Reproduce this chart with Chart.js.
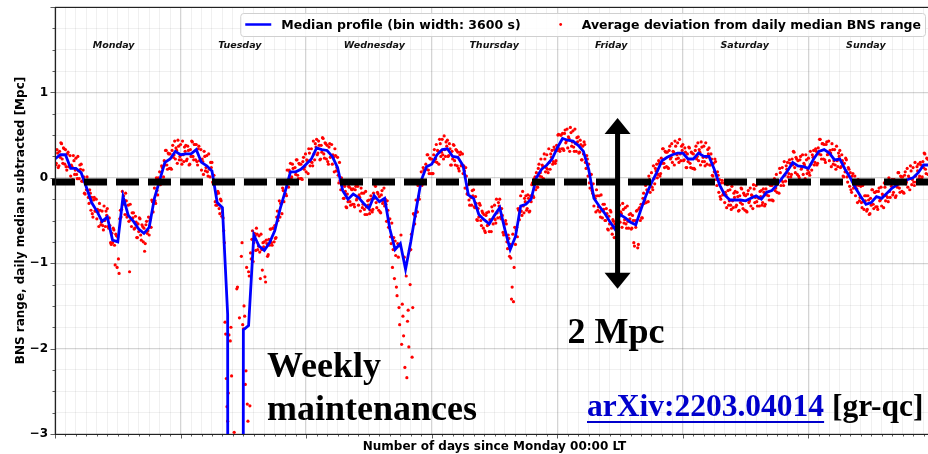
<!DOCTYPE html>
<html lang="en">
<head>
    <title>BNS range weekly profile</title>
    <script src="https://cdn.jsdelivr.net/npm/chart.js"></script>
    <style>
        html, body {
            margin: 0;
            padding: 0;
            background: #ffffff;
            overflow: hidden;
        }
        /* a bit wider than the window: the right edge of the plot is cut off like in the original */
        .chart-container {
            width: 940px;
            height: 454px;
            position: relative;
        }
    </style>
</head>
<body>
    <div class="chart-container">
        <canvas id="myChart"></canvas>
    </div>

    <script>
        const dayNames = ["Monday", "Tuesday", "Wednesday", "Thursday", "Friday", "Saturday", "Sunday"];

        // hourly median profile (Mpc), hour 0 .. 167 since Monday 00:00
        // hours 34-35 are the maintenance gap (range near zero, far below the axis)
        const medianProfile = [
            0.22, 0.27, 0.27, 0.11, 0.11, 0.06, -0.11, -0.29, -0.39, -0.51, -0.46, -0.73,
            -0.75, -0.22, -0.44, -0.51, -0.60, -0.65, -0.58, -0.24, -0.03, 0.18, 0.22, 0.31,
            0.27, 0.28, 0.28, 0.33, 0.18, 0.14, 0.08, -0.29, -0.35, -1.60, -100, -100,
            -1.78, -1.73, -0.67, -0.80, -0.85, -0.76, -0.62, -0.37, -0.16, 0.07, 0.07, 0.10,
            0.16, 0.22, 0.35, 0.33, 0.32, 0.25, 0.12, -0.15, -0.25, -0.19, -0.23, -0.30,
            -0.36, -0.21, -0.28, -0.24, -0.60, -0.84, -0.77, -1.07, -0.75, -0.38, -0.03, 0.13,
            0.16, 0.27, 0.33, 0.34, 0.25, 0.24, 0.14, -0.20, -0.24, -0.43, -0.49, -0.54,
            -0.44, -0.35, -0.61, -0.84, -0.69, -0.33, -0.31, -0.25, 0.00, 0.10, 0.15, 0.22,
            0.35, 0.46, 0.44, 0.43, 0.38, 0.31, 0.10, -0.24, -0.33, -0.41, -0.51, -0.60,
            -0.43, -0.47, -0.52, -0.55, -0.37, -0.20, -0.06, 0.06, 0.20, 0.24, 0.27, 0.29,
            0.29, 0.22, 0.22, 0.29, 0.25, 0.25, 0.10, -0.08, -0.20, -0.26, -0.26, -0.26,
            -0.27, -0.24, -0.21, -0.25, -0.17, -0.15, -0.08, 0.00, 0.08, 0.18, 0.14, 0.13,
            0.11, 0.22, 0.31, 0.33, 0.29, 0.21, 0.22, 0.10, 0.00, -0.12, -0.22, -0.31,
            -0.29, -0.22, -0.24, -0.18, -0.12, -0.08, -0.05, -0.02, 0.00, 0.06, 0.15, 0.15
        ];

        // average deviation from daily median:
        // set A on the quarter hours, set B halfway between (96 values per day each)
        const devMondayA = [
            0.32, 0.17, 0.29, 0.14, 0.24, 0.40, 0.17, 0.34, 0.33, 0.09, 0.30, 0.13,
            0.02, 0.13, 0.26, 0.04, 0.23, -0.01, 0.08, 0.15, 0.16, -0.04, 0.01, -0.19,
            -0.14, -0.03, -0.30, -0.18, -0.23, -0.46, -0.23, -0.39, -0.48, -0.40, -0.30, -0.55,
            -0.39, -0.61, -0.50, -0.39, -0.36, -0.59, -0.56, -0.78, -0.76, -0.61, -1.02, -0.68,
            -0.69, -1.12, -0.38, -0.37, -0.31, -0.26, -0.18, -0.46, -0.32, -1.10, -0.49, -0.41,
            -0.41, -0.59, -0.52, -0.70, -0.63, -0.48, -0.73, -0.57, -0.59, -0.77, -0.51, -0.62,
            -0.67, -0.48, -0.26, -0.40, -0.12, -0.30, -0.15, 0.00, 0.07, -0.04, 0.12, 0.01,
            0.15, 0.32, 0.10, 0.28, 0.28, 0.10, 0.38, 0.27, 0.22, 0.32, 0.44, 0.21
        ];
        const devMondayB = [
            0.15, 0.33, 0.12, 0.31, 0.41, 0.22, 0.35, 0.16, 0.13, 0.28, 0.13, 0.26,
            0.15, -0.02, 0.20, 0.09, 0.04, 0.25, -0.01, 0.10, -0.04, 0.09, -0.18, -0.04,
            0.01, -0.23, -0.14, -0.38, -0.42, -0.26, -0.39, -0.25, -0.37, -0.57, -0.38, -0.52,
            -0.56, -0.33, -0.57, -0.44, -0.57, -0.47, -0.76, -0.65, -0.59, -0.79, -0.66, -1.05,
            -0.95, -0.48, -0.46, -0.16, -0.21, -0.43, -0.27, -0.43, -0.51, -0.31, -0.57, -0.47,
            -0.60, -0.45, -0.70, -0.54, -0.47, -0.67, -0.55, -0.75, -0.86, -0.55, -0.65, -0.46,
            -0.50, -0.58, -0.28, -0.30, -0.27, 0.00, -0.20, -0.03, -0.08, 0.14, -0.03, 0.20,
            0.32, 0.15, 0.29, 0.11, 0.11, 0.32, 0.24, 0.43, 0.35, 0.17, 0.37, 0.25
        ];
        const devTuesdayA = [
            0.39, 0.16, 0.27, 0.36, 0.38, 0.22, 0.32, 0.16, 0.25, 0.42, 0.21, 0.39,
            0.39, 0.15, 0.37, 0.20, 0.09, 0.19, 0.31, 0.08, 0.26, 0.02, 0.10, 0.18,
            0.18, -0.07, -0.07, -0.32, -0.32, -0.18, -0.42, -0.27, -0.40, -0.62, -1.69, -2.35,
            -2.85, -1.84, -1.91, -2.32, null, -2.98, null, -1.30, null, -1.64, null, -0.76,
            -1.77, -1.62, -2.26, -2.65, -1.10, -2.67, -0.95, -0.62, -0.76, -0.68, -0.59, -0.84,
            -0.68, -1.18, -0.84, -0.76, -0.75, -1.22, -0.77, -0.90, -0.79, -0.60, -0.79, -0.59,
            -0.56, -0.70, -0.39, -0.45, -0.46, -0.30, -0.12, -0.28, -0.04, -0.21, -0.06, 0.09,
            0.17, 0.01, 0.11, -0.05, 0.04, 0.21, -0.01, 0.16, 0.16, -0.02, 0.24, 0.13
        ];
        const devTuesdayB = [
            0.21, 0.43, 0.19, 0.31, 0.20, 0.37, 0.15, 0.33, 0.43, 0.25, 0.39, 0.21,
            0.19, 0.34, 0.20, 0.33, 0.22, 0.04, 0.25, 0.12, 0.07, 0.28, 0.01, 0.12,
            -0.05, 0.03, -0.28, -0.19, -0.16, -0.36, -0.25, -0.45, -0.47, -0.76, -1.83, -2.68,
            -2.52, null, -1.75, null, null, null, null, -1.28, null, null, -0.92, -1.72,
            -1.50, -2.42, -1.05, -2.85, -1.15, -0.88, -0.72, -0.98, -0.65, -0.85, -0.66, -0.80,
            -0.87, -0.66, -1.08, -0.81, -1.16, -0.73, -0.92, -0.72, -0.60, -0.76, -0.59, -0.75,
            -0.71, -0.46, -0.50, -0.27, -0.30, -0.42, -0.15, -0.20, -0.19, 0.09, -0.11, 0.07,
            -0.01, 0.16, -0.06, 0.12, 0.21, 0.03, 0.17, -0.01, -0.01, 0.19, 0.10, 0.28
        ];
        const devWednesdayA = [
            0.07, 0.20, 0.34, 0.14, 0.34, 0.14, 0.28, 0.40, 0.45, 0.29, 0.38, 0.22,
            0.30, 0.46, 0.23, 0.40, 0.38, 0.16, 0.40, 0.25, 0.16, 0.24, 0.34, 0.08,
            0.24, -0.06, -0.03, 0.00, -0.05, -0.24, -0.16, -0.35, -0.28, -0.11, -0.32, -0.14,
            -0.13, -0.34, -0.10, -0.24, -0.32, -0.23, -0.12, -0.35, -0.18, -0.43, -0.34, -0.27,
            -0.26, -0.38, -0.25, -0.37, -0.24, -0.10, -0.35, -0.19, -0.22, -0.41, -0.15, -0.27,
            -0.33, -0.31, -0.27, -0.58, -0.48, -0.77, -1.05, -0.70, -0.74, -1.28, -0.77, -1.52,
            -0.80, -1.95, -1.62, -0.93, -1.01, -2.34, -1.55, -0.85, -0.84, -2.10, -0.42, -0.54,
            -0.26, -0.40, -0.22, -0.04, 0.07, -0.05, 0.09, -0.03, 0.10, 0.27, 0.05, 0.22
        ];
        const devWednesdayB = [
            0.21, 0.05, 0.29, 0.19, 0.18, 0.43, 0.21, 0.36, 0.27, 0.43, 0.21, 0.38,
            0.47, 0.28, 0.41, 0.22, 0.19, 0.36, 0.24, 0.39, 0.27, 0.07, 0.26, 0.12,
            0.03, 0.18, -0.14, -0.09, -0.24, -0.10, -0.34, -0.19, -0.10, -0.28, -0.13, -0.31,
            -0.31, -0.14, -0.26, -0.10, -0.20, -0.39, -0.18, -0.31, -0.37, -0.16, -0.43, -0.32,
            -0.42, -0.21, -0.40, -0.18, -0.08, -0.29, -0.17, -0.38, -0.40, -0.20, -0.30, -0.12,
            -0.25, -0.51, -0.38, -0.58, -0.69, -0.53, -0.84, -1.18, -0.91, -1.38, -0.93, -1.72,
            -0.67, -1.48, -1.85, -2.22, -1.15, -1.68, -1.98, -1.25, -0.66, -1.52, -0.43, -0.45,
            -0.40, -0.09, -0.25, -0.04, -0.09, 0.12, -0.06, 0.16, 0.27, 0.09, 0.23, 0.05
        ];
        const devThursdayA = [
            0.22, 0.05, 0.33, 0.22, 0.18, 0.31, 0.45, 0.25, 0.45, 0.22, 0.33, 0.42,
            0.44, 0.26, 0.34, 0.15, 0.22, 0.38, 0.15, 0.32, 0.30, 0.08, 0.30, 0.15,
            0.05, 0.08, 0.12, -0.19, -0.08, -0.32, -0.23, -0.15, -0.14, -0.35, -0.30, -0.50,
            -0.46, -0.32, -0.56, -0.41, -0.43, -0.64, -0.41, -0.55, -0.63, -0.50, -0.34, -0.54,
            -0.32, -0.53, -0.41, -0.29, -0.25, -0.48, -0.44, -0.67, -0.64, -0.54, -0.83, -0.71,
            -0.78, -1.42, -0.66, -1.05, -0.78, -0.58, -0.36, -0.49, -0.21, -0.44, -0.33, -0.24,
            -0.21, -0.36, -0.24, -0.39, -0.28, -0.06, -0.23, 0.01, 0.06, -0.11, 0.16, 0.06,
            0.01, 0.13, 0.28, 0.07, 0.27, 0.06, 0.18, 0.28, 0.32, 0.19, 0.33, 0.20
        ];
        const devThursdayB = [
            0.05, 0.27, 0.19, 0.39, 0.32, 0.16, 0.40, 0.30, 0.27, 0.49, 0.25, 0.37,
            0.25, 0.40, 0.15, 0.31, 0.39, 0.20, 0.33, 0.14, 0.11, 0.27, 0.14, 0.28,
            0.14, -0.12, 0.02, -0.18, -0.26, -0.06, -0.32, -0.21, -0.34, -0.22, -0.49, -0.36,
            -0.30, -0.50, -0.39, -0.59, -0.62, -0.44, -0.56, -0.40, -0.49, -0.63, -0.39, -0.47,
            -0.49, -0.25, -0.47, -0.33, -0.46, -0.36, -0.64, -0.53, -0.50, -0.75, -0.67, -0.92,
            -0.94, -1.28, -1.45, -0.58, -0.61, -0.69, -0.38, -0.40, -0.39, -0.16, -0.41, -0.28,
            -0.38, -0.20, -0.40, -0.21, -0.08, -0.21, -0.01, -0.14, -0.11, 0.11, 0.02, 0.22,
            0.15, -0.01, 0.22, 0.12, 0.10, 0.34, 0.10, 0.24, 0.16, 0.36, 0.17, 0.38
        ];
        const devFridayA = [
            0.32, 0.51, 0.31, 0.50, 0.52, 0.32, 0.56, 0.43, 0.35, 0.46, 0.59, 0.37,
            0.55, 0.31, 0.40, 0.47, 0.48, 0.30, 0.39, 0.21, 0.28, 0.39, 0.11, 0.22,
            0.16, -0.12, 0.04, -0.18, -0.33, -0.24, -0.14, -0.38, -0.21, -0.46, -0.38, -0.31,
            -0.31, -0.50, -0.42, -0.61, -0.54, -0.40, -0.66, -0.51, -0.54, -0.70, -0.41, -0.49,
            -0.52, -0.42, -0.30, -0.53, -0.35, -0.59, -0.51, -0.43, -0.42, -0.59, -0.50, -0.80,
            -0.58, -0.38, -0.78, -0.35, -0.31, -0.47, -0.18, -0.26, -0.29, -0.15, 0.02, -0.17,
            0.06, -0.14, -0.01, 0.11, 0.16, 0.04, 0.17, 0.05, 0.17, 0.34, 0.12, 0.30,
            0.30, 0.11, 0.37, 0.24, 0.18, 0.30, 0.43, 0.22, 0.41, 0.18, 0.28, 0.37
        ];
        const devFridayB = [
            0.50, 0.34, 0.50, 0.34, 0.34, 0.52, 0.41, 0.57, 0.48, 0.31, 0.53, 0.42,
            0.36, 0.57, 0.31, 0.42, 0.29, 0.44, 0.21, 0.37, 0.42, 0.18, 0.26, 0.02,
            -0.06, 0.04, -0.15, -0.07, -0.21, -0.40, -0.21, -0.34, -0.40, -0.20, -0.47, -0.37,
            -0.50, -0.36, -0.60, -0.45, -0.38, -0.59, -0.49, -0.70, -0.70, -0.47, -0.53, -0.32,
            -0.40, -0.58, -0.37, -0.49, -0.54, -0.33, -0.59, -0.48, -0.60, -0.44, -0.76, -0.50,
            -0.39, -0.82, -0.36, -0.50, -0.47, -0.24, -0.30, -0.09, -0.14, -0.28, -0.02, -0.10,
            -0.11, 0.14, -0.07, 0.08, 0.00, 0.20, 0.02, 0.23, 0.34, 0.17, 0.31, 0.13,
            0.12, 0.32, 0.22, 0.40, 0.31, 0.15, 0.37, 0.27, 0.23, 0.45, 0.20, 0.32
        ];
        const devSaturdayA = [
            0.39, 0.21, 0.30, 0.12, 0.19, 0.35, 0.12, 0.29, 0.28, 0.10, 0.37, 0.25,
            0.20, 0.30, 0.42, 0.19, 0.37, 0.14, 0.24, 0.33, 0.35, 0.15, 0.22, 0.02,
            0.07, 0.19, -0.09, 0.03, -0.02, -0.25, -0.03, -0.19, -0.29, -0.20, -0.08, -0.32,
            -0.14, -0.37, -0.27, -0.18, -0.16, -0.32, -0.22, -0.38, -0.29, -0.13, -0.36, -0.20,
            -0.21, -0.40, -0.15, -0.27, -0.33, -0.21, -0.08, -0.29, -0.09, -0.33, -0.24, -0.16,
            -0.15, -0.29, -0.17, -0.31, -0.20, -0.04, -0.26, -0.09, -0.09, -0.27, -0.01, -0.12,
            -0.17, -0.04, 0.11, -0.09, 0.12, -0.09, 0.03, 0.14, 0.18, 0.05, 0.17, 0.04,
            0.15, 0.30, 0.06, 0.22, 0.20, 0.00, 0.25, 0.12, 0.04, 0.15, 0.27, 0.05
        ];
        const devSaturdayB = [
            0.20, 0.35, 0.12, 0.28, 0.36, 0.17, 0.30, 0.11, 0.11, 0.32, 0.22, 0.41,
            0.33, 0.15, 0.36, 0.24, 0.19, 0.41, 0.16, 0.28, 0.15, 0.28, 0.03, 0.17,
            0.22, -0.02, 0.07, -0.17, -0.22, -0.06, -0.20, -0.06, -0.17, -0.35, -0.15, -0.27,
            -0.32, -0.10, -0.35, -0.23, -0.34, -0.17, -0.39, -0.21, -0.12, -0.31, -0.18, -0.38,
            -0.39, -0.19, -0.29, -0.12, -0.20, -0.36, -0.13, -0.23, -0.28, -0.06, -0.33, -0.22,
            -0.32, -0.13, -0.33, -0.13, -0.03, -0.21, -0.08, -0.26, -0.26, -0.05, -0.15, 0.04,
            -0.03, -0.18, 0.06, -0.03, -0.05, 0.19, -0.04, 0.10, 0.01, 0.21, 0.01, 0.22,
            0.31, 0.12, 0.24, 0.04, 0.02, 0.21, 0.10, 0.27, 0.17, -0.01, 0.21, 0.09
        ];
        const devSundayA = [
            0.23, 0.03, 0.16, 0.27, 0.32, 0.18, 0.31, 0.17, 0.28, 0.45, 0.22, 0.40,
            0.39, 0.18, 0.42, 0.28, 0.20, 0.29, 0.40, 0.16, 0.33, 0.10, 0.20, 0.29,
            0.32, 0.13, 0.20, 0.01, 0.07, 0.21, -0.05, 0.10, 0.06, -0.17, 0.05, -0.11,
            -0.21, -0.13, -0.02, -0.27, -0.10, -0.35, -0.28, -0.21, -0.21, -0.37, -0.26, -0.42,
            -0.32, -0.14, -0.36, -0.17, -0.16, -0.37, -0.12, -0.26, -0.33, -0.21, -0.06, -0.27,
            -0.06, -0.28, -0.16, -0.06, -0.02, -0.17, -0.06, -0.21, -0.11, 0.06, -0.17, 0.01,
            0.01, -0.18, 0.07, -0.05, -0.11, 0.00, 0.14, -0.08, 0.12, -0.09, 0.02, 0.13,
            0.16, 0.02, 0.15, 0.01, 0.12, 0.28, 0.05, 0.22, 0.21, 0.01, 0.26, 0.13
        ];
        const devSundayB = [
            0.06, 0.31, 0.09, 0.24, 0.15, 0.34, 0.15, 0.35, 0.45, 0.27, 0.40, 0.22,
            0.21, 0.39, 0.27, 0.43, 0.32, 0.13, 0.33, 0.20, 0.15, 0.37, 0.13, 0.25,
            0.12, 0.27, 0.02, 0.17, 0.23, 0.01, 0.12, -0.10, -0.14, 0.02, -0.12, 0.02,
            -0.09, -0.29, -0.09, -0.23, -0.29, -0.09, -0.37, -0.27, -0.39, -0.21, -0.43, -0.24,
            -0.14, -0.31, -0.17, -0.34, -0.34, -0.16, -0.27, -0.11, -0.19, -0.35, -0.11, -0.21,
            -0.23, 0.00, -0.23, -0.10, -0.20, -0.02, -0.23, -0.04, 0.06, -0.12, 0.02, -0.16,
            -0.17, 0.03, -0.07, 0.11, 0.02, -0.14, 0.08, -0.02, -0.05, 0.18, -0.05, 0.08,
            -0.01, 0.18, -0.01, 0.19, 0.29, 0.10, 0.23, 0.04, 0.03, 0.22, 0.11, 0.28
        ];

        const deviationA = [devMondayA, devTuesdayA, devWednesdayA, devThursdayA, devFridayA, devSaturdayA, devSundayA];
        const deviationB = [devMondayB, devTuesdayB, devWednesdayB, devThursdayB, devFridayB, devSaturdayB, devSundayB];

        const dailyMedianLevel = -0.05;   // thick dashed line
        const arrowSpan = [0.7, -1.3];    // the "2 Mpc" arrow
        const arrowDay = 4.48;

        const FONT = '"DejaVu Sans", sans-serif';
        const SERIF = '"Liberation Serif", "Times New Roman", serif';

        function buildMedian() {
            return medianProfile.map((v, i) => ({ x: i / 24, y: v }));
        }

        function buildDeviation() {
            const pts = [];
            [deviationA, deviationB].forEach((set, s) => {
                set.forEach((day, d) => {
                    day.forEach((v, j) => {
                        if (v !== null) pts.push({ x: d + (j + s * 0.5) / 96, y: v });
                    });
                });
            });
            return pts;
        }

        // matplotlib-like decorations: frame, tick marks, legend, annotations
        const decorPlugin = {
            id: "decor",
            afterDatasetsDraw(chart) {
                const ctx = chart.ctx;
                const xs = chart.scales.x;
                const ys = chart.scales.y;
                const area = chart.chartArea;
                ctx.save();

                // dashed daily median line
                const yDash = ys.getPixelForValue(dailyMedianLevel);
                ctx.strokeStyle = "#000";
                ctx.lineWidth = 7;
                ctx.setLineDash([23, 9]);
                ctx.beginPath();
                ctx.moveTo(area.left - 3, yDash);
                ctx.lineTo(area.right, yDash);
                ctx.stroke();
                ctx.setLineDash([]);

                // double arrow
                const ax = xs.getPixelForValue(arrowDay);
                const y1 = ys.getPixelForValue(arrowSpan[0]);
                const y2 = ys.getPixelForValue(arrowSpan[1]);
                const headH = 16, headW = 13;
                ctx.fillStyle = "#000";
                ctx.fillRect(ax - 2.5, y1 + headH - 1, 5, (y2 - y1) - 2 * headH + 2);
                ctx.beginPath();
                ctx.moveTo(ax, y1);
                ctx.lineTo(ax + headW, y1 + headH);
                ctx.lineTo(ax - headW, y1 + headH);
                ctx.closePath();
                ctx.fill();
                ctx.beginPath();
                ctx.moveTo(ax, y2);
                ctx.lineTo(ax + headW, y2 - headH);
                ctx.lineTo(ax - headW, y2 - headH);
                ctx.closePath();
                ctx.fill();

                // day names
                ctx.font = "italic bold 9.5px " + FONT;
                ctx.fillStyle = "#111";
                ctx.textBaseline = "middle";
                ctx.textAlign = "left";
                dayNames.forEach((name, i) => {
                    ctx.fillText(name, xs.getPixelForValue(i + 0.3), area.top + 39);
                });

                // annotations
                ctx.textBaseline = "alphabetic";
                ctx.font = "bold 36px " + SERIF;
                ctx.fillStyle = "#000";
                ctx.fillText("2 Mpc", ax - 50, 343);
                ctx.fillText("Weekly", 267, 377);
                ctx.fillText("maintenances", 267, 420);

                ctx.font = "bold 31.5px " + SERIF;
                const ref = "arXiv:2203.04014";
                const refX = 587, refY = 416;
                ctx.fillStyle = "#0000cc";
                ctx.fillText(ref, refX, refY);
                const w = ctx.measureText(ref).width;
                ctx.fillRect(refX, refY + 5, w, 2);
                ctx.fillStyle = "#000";
                ctx.fillText(" [gr-qc]", refX + w, refY);

                ctx.restore();
            },
            afterDraw(chart) {
                const ctx = chart.ctx;
                const xs = chart.scales.x;
                const ys = chart.scales.y;
                const area = chart.chartArea;
                ctx.save();

                // tick marks
                ctx.strokeStyle = "#333";
                ctx.lineWidth = 0.8;
                ctx.beginPath();
                xs.ticks.forEach((t, i) => {
                    const px = Math.round(xs.getPixelForValue(t.value)) + 0.5;
                    const len = i % 12 === 0 ? 4.5 : 2.5;
                    ctx.moveTo(px, area.bottom);
                    ctx.lineTo(px, area.bottom + len);
                });
                ys.ticks.forEach((t) => {
                    const py = Math.round(ys.getPixelForValue(t.value)) + 0.5;
                    const len = Number.isInteger(t.value) ? 4.5 : 2.5;
                    ctx.moveTo(area.left, py);
                    ctx.lineTo(area.left - len, py);
                });
                ctx.stroke();

                // frame
                ctx.strokeStyle = "#222";
                ctx.lineWidth = 1.2;
                ctx.beginPath();
                ctx.moveTo(area.right, area.top + 0.5);
                ctx.lineTo(area.left + 0.5, area.top + 0.5);
                ctx.lineTo(area.left + 0.5, area.bottom + 0.5);
                ctx.lineTo(area.right, area.bottom + 0.5);
                ctx.stroke();

                // legend box (upper right)
                const ds = chart.data.datasets;
                ctx.font = "bold 12.5px " + FONT;
                const w1 = ctx.measureText(ds[0].label).width;
                const w2 = ctx.measureText(ds[1].label).width;
                const boxRight = area.right - 9;
                const boxW = 5 + 26 + 10 + w1 + 27 + 34 + w2 + 4;
                const boxL = boxRight - boxW;
                const boxT = area.top + 6, boxH = 23;
                const midY = boxT + boxH / 2;
                ctx.fillStyle = "rgba(255,255,255,0.85)";
                ctx.strokeStyle = "#d0d0d0";
                ctx.lineWidth = 1;
                ctx.beginPath();
                ctx.roundRect(boxL + 0.5, boxT + 0.5, boxW, boxH, 3);
                ctx.fill();
                ctx.stroke();

                ctx.strokeStyle = ds[0].borderColor;
                ctx.lineWidth = 2.5;
                ctx.beginPath();
                ctx.moveTo(boxL + 5, midY);
                ctx.lineTo(boxL + 31, midY);
                ctx.stroke();

                ctx.fillStyle = "#000";
                ctx.textBaseline = "middle";
                ctx.textAlign = "left";
                ctx.fillText(ds[0].label, boxL + 41, midY + 1);

                const h2 = boxL + 41 + w1 + 27;
                ctx.fillStyle = ds[1].backgroundColor;
                ctx.beginPath();
                ctx.arc(h2 + 13, midY, 1.4, 0, Math.PI * 2);
                ctx.fill();
                ctx.fillStyle = "#000";
                ctx.fillText(ds[1].label, h2 + 34, midY + 1);

                ctx.restore();
            }
        };

        function createChart() {
            const ctx = document.getElementById("myChart").getContext("2d");
            new Chart(ctx, {
                type: "scatter",
                data: {
                    datasets: [{
                        label: "Median profile (bin width: 3600 s)",
                        data: buildMedian(),
                        showLine: true,
                        borderColor: "#0000ff",
                        borderWidth: 2.8,
                        pointRadius: 0,
                        tension: 0,
                        order: 0
                    }, {
                        label: "Average deviation from daily median BNS range",
                        data: buildDeviation(),
                        backgroundColor: "#ff0000",
                        borderWidth: 0,
                        pointRadius: 1.6,
                        order: 1
                    }]
                },
                options: {
                    responsive: true,
                    maintainAspectRatio: false,
                    animation: false,
                    devicePixelRatio: 1,
                    layout: {
                        padding: { left: 0, right: 6, top: 7, bottom: 0 }
                    },
                    plugins: {
                        legend: { display: false },
                        tooltip: { enabled: false }
                    },
                    scales: {
                        x: {
                            type: "linear",
                            min: 0,
                            max: 7,
                            afterBuildTicks: (scale) => {
                                const ticks = [];
                                for (let i = 0; i <= 84; i++) ticks.push({ value: i / 12 });
                                scale.ticks = ticks;
                            },
                            afterFit: (scale) => {
                                scale.height = 20;
                                scale.paddingLeft = 0;
                                scale.paddingRight = 0;
                            },
                            ticks: { display: false },
                            grid: {
                                drawTicks: false,
                                color: (c) => (c.index % 12 === 0 ? "rgba(0,0,0,0.17)" : "rgba(0,0,0,0.06)"),
                                lineWidth: (c) => (c.index % 12 === 0 ? 1.3 : 1)
                            },
                            border: { display: false },
                            title: {
                                display: true,
                                text: "Number of days since Monday 00:00 LT",
                                color: "#000",
                                font: { family: FONT, size: 12, weight: "bold" },
                                padding: { top: 0, bottom: 0 }
                            }
                        },
                        y: {
                            min: -3,
                            max: 2,
                            afterBuildTicks: (scale) => {
                                const ticks = [];
                                for (let i = 0; i <= 20; i++) ticks.push({ value: -3 + i * 0.25 });
                                scale.ticks = ticks;
                            },
                            afterFit: (scale) => {
                                scale.width = 55;
                                scale.paddingTop = 0;
                                scale.paddingBottom = 0;
                            },
                            ticks: {
                                autoSkip: false,
                                padding: 7,
                                color: "#000",
                                font: { family: FONT, size: 12, weight: "bold" },
                                callback: (v) => (Number.isInteger(v) && v !== 2 ? String(v).replace("-", "\u2212") : "")
                            },
                            grid: {
                                drawTicks: false,
                                color: (c) => (c.tick && Number.isInteger(c.tick.value) ? "rgba(0,0,0,0.17)" : "rgba(0,0,0,0.06)"),
                                lineWidth: (c) => (c.tick && Number.isInteger(c.tick.value) ? 1.3 : 1)
                            },
                            border: { display: false },
                            title: {
                                display: true,
                                text: "BNS range, daily median subtracted [Mpc]",
                                color: "#000",
                                font: { family: FONT, size: 12, weight: "bold" },
                                padding: { top: 14, bottom: 0 }
                            }
                        }
                    }
                },
                plugins: [decorPlugin]
            });
        }

        createChart();
    </script>
</body>
</html>
